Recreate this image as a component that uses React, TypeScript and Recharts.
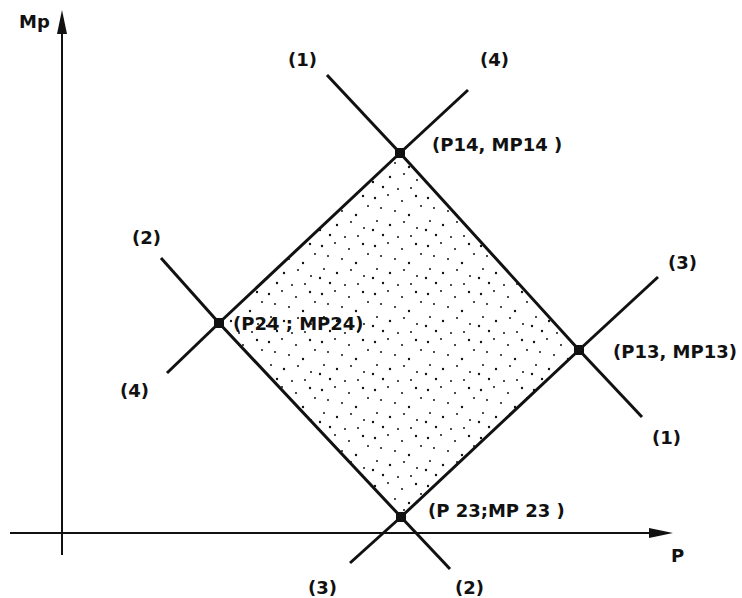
import { ScatterChart, Scatter, XAxis, YAxis } from "recharts"

// P runs along the horizontal axis, MP along the vertical one (origin where the axes cross)
const p24 = { name: "P24", p: 157, mp: 210 }
const p14 = { name: "P14", p: 338, mp: 380 }
const p13 = { name: "P13", p: 517, mp: 183 }
const p23 = { name: "P23", p: 339, mp: 16 }
const corners = [p24, p14, p13, p23]

// free ends of the four boundary lines, beyond the shaded region
const line1Ends = [{ p: 265, mp: 458 }, { p: 580, mp: 116 }]
const line2Ends = [{ p: 99, mp: 275 }, { p: 388, mp: -36 }]
const line3Ends = [{ p: 288, mp: -30 }, { p: 596, mp: 256 }]
const line4Ends = [{ p: 105, mp: 160 }, { p: 406, mp: 443 }]

const lineStubs = [
  [line1Ends[0], p14], [p13, line1Ends[1]],
  [line2Ends[0], p24], [p23, line2Ends[1]],
  [line3Ends[0], p23], [p13, line3Ends[1]],
  [line4Ends[0], p24], [p14, line4Ends[1]],
]

const pAxis = [{ p: -52, mp: 0 }, { p: 600, mp: 0 }]
const mpAxis = [{ p: 0, mp: -22 }, { p: 0, mp: 510 }]
const pTip = [{ p: 611, mp: 0 }]
const mpTip = [{ p: 0, mp: 523 }]

const pointLabels = [
  { text: "(P14, MP14 )", p: 370, mp: 389 },
  { text: "(P24 ; MP24)", p: 171, mp: 210 },
  { text: "(P13, MP13)", p: 551, mp: 182 },
  { text: "(P 23;MP 23 )", p: 366, mp: 23 },
]

const lineLabels = [
  { text: "(1)", p: 226, mp: 474 },
  { text: "(4)", p: 418, mp: 474 },
  { text: "(2)", p: 70, mp: 296 },
  { text: "(4)", p: 58, mp: 143 },
  { text: "(3)", p: 606, mp: 271 },
  { text: "(1)", p: 590, mp: 96 },
  { text: "(3)", p: 246, mp: -54 },
  { text: "(2)", p: 393, mp: -54 },
]

const axisLabels = [
  { text: "Mp", p: -43, mp: 512 },
  { text: "P", p: 609, mp: -22 },
]

const stroke = "#111"
const noPoint = () => <g />

// loose, uneven dots for the shaded region
const stippleDots = [
  [4, 6], [17, 3], [31, 9], [45, 4], [10, 16], [24, 19], [38, 23], [50, 14],
  [6, 29], [19, 33], [33, 30], [46, 36], [12, 43], [27, 45], [40, 44], [2, 38],
]

const textShape = (props: any) => (
  <text
    x={props.cx}
    y={props.cy}
    dominantBaseline="central"
    fontFamily="DejaVu Sans"
    fontWeight="bold"
    fontSize={18}
    fill={stroke}
  >
    {props.payload.text}
  </text>
)

const squareShape = (props: any) => (
  <rect x={props.cx - 5} y={props.cy - 5} width={10} height={10} fill={stroke} />
)

const rightArrow = (props: any) => (
  <polygon
    points={`${props.cx},${props.cy} ${props.cx - 24},${props.cy - 5} ${props.cx - 24},${props.cy + 5}`}
    fill={stroke}
  />
)

const upArrow = (props: any) => (
  <polygon
    points={`${props.cx},${props.cy} ${props.cx - 5},${props.cy + 24} ${props.cx + 5},${props.cy + 24}`}
    fill={stroke}
  />
)

export default function App() {
  return (
    <div style={{ position: "absolute", left: 0, top: 0, width: 742, height: 598, background: "#fff" }}>
      <svg width={0} height={0} style={{ position: "absolute" }}>
        <defs>
          <pattern id="stipple" width={53} height={48} patternUnits="userSpaceOnUse">
            {stippleDots.map(([x, y], i) => (
              <circle key={i} cx={x} cy={y} r={i % 3 === 0 ? 1.2 : 1} fill={stroke} />
            ))}
          </pattern>
        </defs>
      </svg>
      <ScatterChart width={742} height={598} margin={{ top: 0, right: 0, bottom: 0, left: 0 }}>
        <XAxis type="number" dataKey="p" domain={[-62, 680]} allowDataOverflow hide />
        <YAxis type="number" dataKey="mp" domain={[-65, 533]} allowDataOverflow hide />

        <Scatter
          data={[...corners, corners[0]]}
          line={{ stroke, strokeWidth: 3, fill: "url(#stipple)", strokeLinejoin: "round" }}
          lineType="joint"
          shape={noPoint}
          isAnimationActive={false}
        />
        {lineStubs.map((d, i) => (
          <Scatter
            key={i}
            data={d}
            line={{ stroke, strokeWidth: 3 }}
            lineType="joint"
            shape={noPoint}
            isAnimationActive={false}
          />
        ))}
        <Scatter data={pAxis} line={{ stroke, strokeWidth: 2 }} lineType="joint" shape={noPoint} isAnimationActive={false} />
        <Scatter data={mpAxis} line={{ stroke, strokeWidth: 2 }} lineType="joint" shape={noPoint} isAnimationActive={false} />
        <Scatter data={pTip} shape={rightArrow} isAnimationActive={false} />
        <Scatter data={mpTip} shape={upArrow} isAnimationActive={false} />

        <Scatter data={corners} shape={squareShape} isAnimationActive={false} />
        <Scatter data={pointLabels} shape={textShape} isAnimationActive={false} />
        <Scatter data={lineLabels} shape={textShape} isAnimationActive={false} />
        <Scatter data={axisLabels} shape={textShape} isAnimationActive={false} />
      </ScatterChart>
    </div>
  )
}
